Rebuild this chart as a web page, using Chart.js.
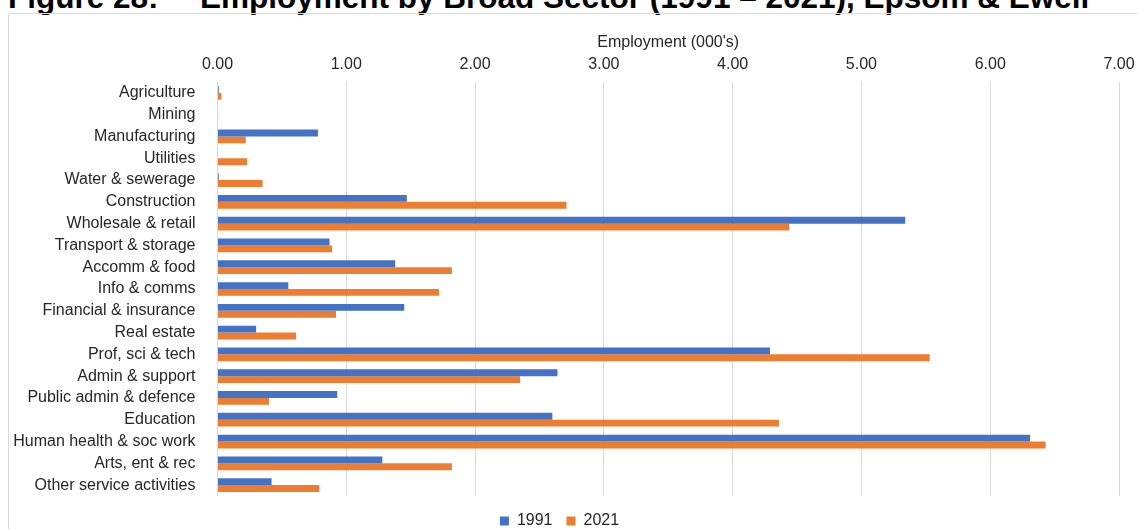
<!DOCTYPE html>
<html>
<head>
<meta charset="utf-8">
<script src="https://cdn.jsdelivr.net/npm/chart.js@4.4.1/dist/chart.umd.min.js"></script>
<style>
    body { margin: 0; background: #fff; overflow: hidden; }
    .title {
        position: absolute; top: -18px; white-space: pre;
        font: bold 31.5px "Liberation Sans", Arial, sans-serif; line-height: 30px; color: #000;
    }
    #frame {
        position: absolute; left: 8px; top: 13px; width: 1140px; height: 540px;
        border: 1px solid #d9d9d9; border-radius: 2px;
    }
    #wrap { position: absolute; left: 0; top: 0; width: 1137px; height: 539px; }
</style>
</head>
<body>
<div class="title" style="left: 8px;">Figure 28:</div>
<div class="title" style="left: 200px;">Employment by Broad Sector (1991 – 2021), Epsom &amp; Ewell</div>
<div id="frame"></div>
<div id="wrap"><canvas id="sectorChart"></canvas></div>
<script>
const sectors = [
    'Agriculture', 'Mining', 'Manufacturing', 'Utilities', 'Water & sewerage',
    'Construction', 'Wholesale & retail', 'Transport & storage', 'Accomm & food',
    'Info & comms', 'Financial & insurance', 'Real estate', 'Prof, sci & tech',
    'Admin & support', 'Public admin & defence', 'Education',
    'Human health & soc work', 'Arts, ent & rec', 'Other service activities'
];
const jobs1991 = [0.01, 0, 0.78, 0, 0.01, 1.47, 5.34, 0.87, 1.38, 0.55, 1.45, 0.30, 4.29, 2.64, 0.93, 2.60, 6.31, 1.28, 0.42];
const jobs2021 = [0.03, 0.005, 0.22, 0.23, 0.35, 2.71, 4.44, 0.89, 1.82, 1.72, 0.92, 0.61, 5.53, 2.35, 0.40, 4.36, 6.43, 1.82, 0.79];
const xTicks = [0, 1, 2, 3, 4, 5, 6, 7];

const FONT = "'Liberation Sans', Arial, sans-serif";
const TEXT = '#262626';

const ctx = document.getElementById('sectorChart').getContext('2d');
new Chart(ctx, {
    type: 'bar',
    data: {
        labels: sectors,
        datasets: [
            { label: '1991', data: jobs1991, backgroundColor: '#4472C4' },
            { label: '2021', data: jobs2021, backgroundColor: '#ED7D31' }
        ]
    },
    options: {
        indexAxis: 'y',
        responsive: true,
        maintainAspectRatio: false,
        animation: false,
        datasets: { bar: { categoryPercentage: 0.63, barPercentage: 1.0 } },
        layout: { padding: { top: 0, right: 18, bottom: 0, left: 0 } },
        plugins: {
            tooltip: { enabled: false },
            legend: {
                position: 'bottom',
                // empty title just adds a little space above the legend items
                title: { display: true, text: ' ', padding: 0, font: { size: 2.5 } },
                labels: {
                    boxWidth: 9, boxHeight: 9, padding: 14,
                    color: TEXT, font: { family: FONT, size: 16 }
                }
            }
        },
        scales: {
            x: {
                position: 'top',
                min: 0, max: 7,
                afterBuildTicks: scale => { scale.ticks = xTicks.map(v => ({ value: v })); },
                afterFit: scale => {
                    scale.height = 82;
                    scale.paddingRight = 0;
                },
                ticks: {
                    padding: 8, color: TEXT, font: { family: FONT, size: 16 },
                    callback: v => v.toFixed(2)
                },
                grid: { color: '#d9d9d9', drawTicks: false },
                border: { display: false },
                title: {
                    display: true, text: "Employment (000's)",
                    color: TEXT, font: { family: FONT, size: 16 },
                    padding: { top: 33, bottom: 0 }
                }
            },
            y: {
                afterFit: scale => { scale.width = 217.5; },
                ticks: { autoSkip: false, padding: 14, color: TEXT, font: { family: FONT, size: 16 } },
                grid: { display: false },
                border: { display: false }
            }
        }
    }
});
</script>
</body>
</html>
